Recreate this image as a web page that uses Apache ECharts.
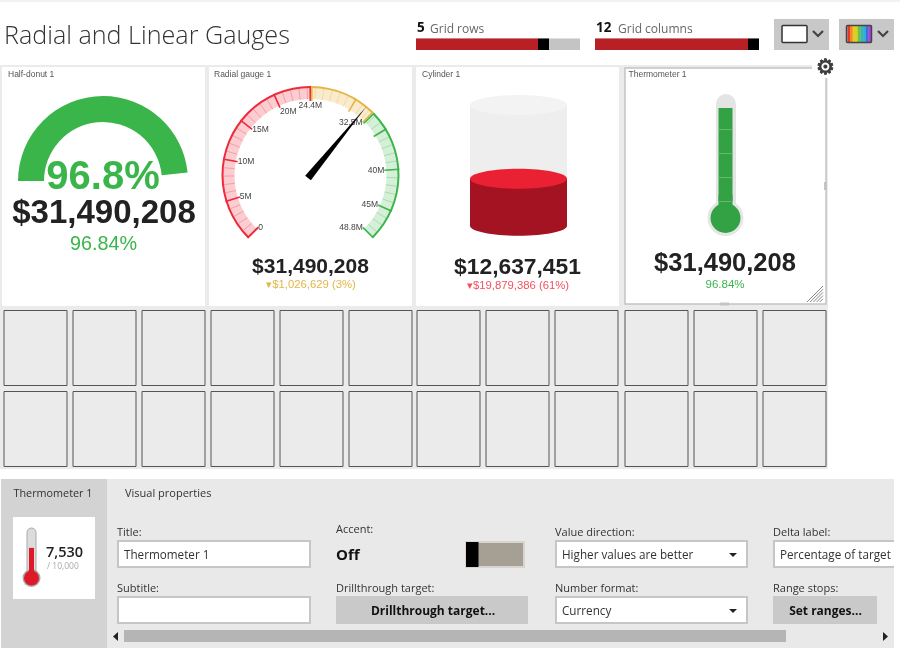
<!DOCTYPE html>
<html>
<head>
<meta charset="utf-8">
<title>Radial and Linear Gauges</title>
<script src="https://cdn.jsdelivr.net/npm/echarts@6/dist/echarts.min.js"></script>
<style>html,body{margin:0;padding:0;background:#fff}#main{width:900px;height:650px}</style>
</head>
<body>
<div id="main"></div>
<script>
// values
const donutPercent = [96.84];
const actualValue = [31490208];
const cylinderValue = [12637451];
const targetMillions = [32.52];
const gaugeDelta = [1026629];
const cylinderDelta = [19879386];
const thumbValue = [7530];
const thumbMax = [10000];

// radial gauge, in millions
const gaugeMax = 48.8;
const zoneEnds = [24.4, 32.53, 48.8];
const zoneColors = ['#ee2a3c', '#e5b445', '#3cb54a'];
const zoneLights = ['#fbcdd1', '#f9ebcb', '#d5efd8'];
const zoneLabels = [{0: '0', 24.4: '24.4M'}, {32.53: '32.5M'}, {48.8: '48.8M'}];
const lowerMajors = [0, 20];
const upperMajors = [30, 45];

const tileNames = ['Half-donut 1', 'Radial gauge 1', 'Cylinder 1', 'Thermometer 1'];
const gridRows = 5;
const gridColumns = 12;

const chart = echarts.init(document.getElementById('main'));
const uiFont = '"Open Sans"';
const chartFont = '"Liberation Sans"';
const green = '#39b54a';

function money(v) { return '$' + Math.round(v).toLocaleString('en-US'); }
function rect(x, y, w, h, fill, stroke, lw, r) {
    return {type: 'rect', shape: {x: x, y: y, width: w, height: h, r: r || 0}, style: {fill: fill, stroke: stroke || null, lineWidth: lw || 0}, silent: true};
}
function text(x, y, s, size, color, font, weight, align) {
    return {type: 'text', x: x, y: y, silent: true, style: {text: s, fontSize: size, fill: color, fontFamily: font || uiFont,
        fontWeight: weight || 'normal', align: align || 'left', verticalAlign: 'middle'}};
}
function circle(cx, cy, r, fill) {
    return {type: 'circle', shape: {cx: cx, cy: cy, r: r}, style: {fill: fill}, silent: true};
}
function poly(points, fill) {
    return {type: 'polygon', shape: {points: points}, style: {fill: fill}, silent: true};
}
function chevron(cx, cy) {
    return {type: 'polyline', shape: {points: [[cx - 5, cy - 3], [cx, cy + 2], [cx + 5, cy - 3]]}, style: {stroke: '#444', lineWidth: 2.2, fill: null}, silent: true};
}
function field(x, y, w, s, arrow) {
    const items = [rect(x, y, w, 26, '#fff', '#c6c6c6', 2)];
    if (s) items.push(text(x + 6, y + 15, s, 11.7, '#333'));
    if (arrow) items.push(poly([[x + w - 18, y + 12], [x + w - 10, y + 12], [x + w - 14, y + 16]], '#222'));
    return items;
}

// page chrome and tiles
const chrome = [];
chrome.push(rect(0, 0, 900, 2, '#f2f2f2'));
chrome.push(text(4, 36.5, 'Radial and Linear Gauges', 25.15, '#333', uiFont, 300));

// sliders
function slider(x, num, label, labelX, knobX) {
    chrome.push(text(x + 1, 28.5, String(num), 13.5, '#111', uiFont, 'bold'));
    chrome.push(text(labelX, 29.5, label, 12, '#666'));
    chrome.push(rect(x, 38.5, 164, 11.5, '#c4c4c4'));
    chrome.push(rect(x, 38.5, knobX - x, 11.5, '#b92025'));
    chrome.push(rect(knobX, 38.5, 11, 11.5, '#000'));
}
slider(416, gridRows, 'Grid rows', 430, 538);
slider(595, gridColumns, 'Grid columns', 618, 748);

// top right buttons
chrome.push(rect(774, 19, 55, 31, '#c8c8c8'));
chrome.push(rect(782, 25.5, 25, 17, '#fff', '#333', 1.5, 1));
chrome.push(chevron(818, 34));
chrome.push(rect(839, 19, 55, 31, '#c8c8c8'));
['#e8362c', '#f08c1f', '#f5c518', '#c8d42c', '#6cc04a', '#3cb5a0', '#2ab0e0', '#3a6fd8', '#a83fe0'].forEach(function (c, i) {
    chrome.push(rect(847.5 + i * 2.6, 26, 2.7, 16, c));
});
chrome.push(rect(846.5, 25.5, 25, 17, 'none', '#444', 1.5, 1));
chrome.push(chevron(883, 34));

// tile area
chrome.push(rect(0, 65, 828, 404, '#ebebeb'));
chrome.push(rect(2, 67, 203, 239, '#fff'));
chrome.push(rect(209, 67, 203, 239, '#fff'));
chrome.push(rect(416, 67, 203, 239, '#fff'));
chrome.push(rect(625, 68, 201, 236, '#fff', '#c4c4c4', 1.5));
chrome.push(text(8, 74.5, tileNames[0], 8.5, '#555', chartFont));
chrome.push(text(214, 74.5, tileNames[1], 8.5, '#555', chartFont));
chrome.push(text(422, 74.5, tileNames[2], 8.5, '#555', chartFont));
chrome.push(text(628.5, 74.5, tileNames[3], 8.5, '#555', chartFont));

// empty cells
const cellX = [4, 73, 142, 211, 280, 349, 417, 486, 555, 625, 694, 763];
[310.5, 391.5].forEach(function (y) {
    cellX.forEach(function (x) { chrome.push(rect(x, y, 63, 75, '#ebebeb', '#555', 1)); });
});

// selected tile furniture
chrome.push(rect(812, 58, 28, 20, '#fff'));
const gear = text(825.5, 68.5, '\u2699', 21, '#3c3c3c', '"DejaVu Sans"', 'normal', 'center');
gear.style.stroke = '#3c3c3c';
gear.style.lineWidth = 0.9;
chrome.push(gear);
chrome.push(rect(824, 182, 3, 8, '#c4c4c4'));
chrome.push(rect(720, 302.5, 9, 3, '#c4c4c4'));
[0, 1, 2, 3, 4].forEach(function (i) {
    chrome.push({type: 'line', shape: {x1: 807 + i * 3.2, y1: 302, x2: 823, y2: 286 + i * 3.2}, style: {stroke: '#888', lineWidth: 1}, silent: true});
});

// tile texts
chrome.push(text(104, 214, money(actualValue[0]), 33, '#222', chartFont, 'bold', 'center'));
chrome.push(text(103.5, 245, donutPercent[0].toFixed(2) + '%', 19.8, green, chartFont, 'normal', 'center'));
chrome.push(text(310.5, 267, money(actualValue[0]), 21, '#222', chartFont, 'bold', 'center'));
chrome.push(text(311, 285, '\u25BE' + money(gaugeDelta[0]) + ' (3%)', 11.3, '#e5b445', chartFont, 'normal', 'center'));
chrome.push(text(517.5, 267.5, money(cylinderValue[0]), 22.8, '#222', chartFont, 'bold', 'center'));
chrome.push(text(518, 286, '\u25BE' + money(cylinderDelta[0]) + ' (61%)', 11.3, '#f4505f', chartFont, 'normal', 'center'));
chrome.push(text(725, 263.5, money(actualValue[0]), 25.5, '#222', chartFont, 'bold', 'center'));
chrome.push(text(725, 285, donutPercent[0].toFixed(2) + '%', 11.5, green, chartFont, 'normal', 'center'));

// thermometer glass
chrome.push(rect(716, 94, 20, 112, '#e4e4e4', null, 0, [10, 10, 0, 0]));
chrome.push(circle(725.5, 218, 18, '#e6e6e6'));
chrome.push(circle(725.5, 218, 15, '#33a244'));
chrome.push(rect(718.5, 195, 14, 15, '#33a244'));

// properties panel
chrome.push(rect(1, 479, 893, 169, '#e9e9e9'));
chrome.push(rect(1, 479, 106, 169, '#d3d3d3'));
chrome.push(text(53, 493.5, tileNames[3], 10.8, '#333', uiFont, 'normal', 'center'));
chrome.push(text(125, 493.5, 'Visual properties', 11, '#333'));
chrome.push(rect(13, 517, 82, 82, '#fff'));
chrome.push(rect(27, 528, 9, 50, '#dcdcdc', '#aaa', 1, [4.5, 4.5, 0, 0]));
chrome.push(circle(31.5, 578, 9, '#a8a8a8'));
chrome.push(circle(31.5, 578, 7.5, '#de1a28'));
chrome.push(text(46, 553, thumbValue[0].toLocaleString('en-US'), 14.5, '#222', uiFont, 600));
chrome.push(text(47, 566.5, '/ ' + thumbMax[0].toLocaleString('en-US'), 8.5, '#aaa'));

chrome.push(text(117, 532.5, 'Title:', 11, '#333'));
field(118, 541, 192, tileNames[3]).forEach(function (e) { chrome.push(e); });
chrome.push(text(117, 588.5, 'Subtitle:', 11, '#333'));
field(118, 597, 192).forEach(function (e) { chrome.push(e); });

chrome.push(text(336, 530, 'Accent:', 11, '#333'));
chrome.push(text(336, 555.5, 'Off', 15, '#111', uiFont, 'bold'));
chrome.push(rect(466, 542, 58, 25, '#a69f94', '#d8d5d0', 2));
chrome.push(rect(466, 542, 12.5, 25, '#000'));
chrome.push(text(336, 588.5, 'Drillthrough target:', 11, '#333'));
chrome.push(rect(336, 596, 192, 28, '#c9c9c9'));
chrome.push(text(433, 611.5, 'Drillthrough target...', 12, '#111', uiFont, 'bold', 'center'));

chrome.push(text(555, 532.5, 'Value direction:', 11, '#333'));
field(556, 541, 191, 'Higher values are better', true).forEach(function (e) { chrome.push(e); });
chrome.push(text(555, 588.5, 'Number format:', 11, '#333'));
field(556, 597, 191, 'Currency', true).forEach(function (e) { chrome.push(e); });

chrome.push(text(773, 532.5, 'Delta label:', 11, '#333'));
chrome.push(rect(774, 541, 130, 26, '#fff', '#c6c6c6', 2));
chrome.push(text(780, 556, 'Percentage of target', 11.7, '#333'));
chrome.push(rect(894, 479, 6, 171, '#fff'));
chrome.push(text(773, 588.5, 'Range stops:', 11, '#333'));
chrome.push(rect(773, 596, 104, 28, '#c9c9c9'));
chrome.push(text(825.5, 611.5, 'Set ranges...', 12, '#111', uiFont, 'bold', 'center'));

// scrollbar
chrome.push(rect(124, 630, 662, 12, '#b5b5b5'));
chrome.push(poly([[118, 632], [118, 641], [113, 636.5]], '#222'));
chrome.push(poly([[883, 632], [883, 641], [888, 636.5]], '#222'));

// radial gauge series
const radialCenter = [310.5, 175];
function angleOf(v) { return 225 - 270 * v / gaugeMax; }
function zoneStops(min, max, colors) {
    const stops = [];
    zoneEnds.forEach(function (end, i) {
        const p = Math.min(1, (end - min) / (max - min));
        if (p > 0 && (stops.length === 0 || stops[stops.length - 1][0] < 1)) stops.push([p, colors[i]]);
    });
    return stops;
}
function arc(min, max, extra, gapStart, gapEnd) {
    return Object.assign({
        type: 'gauge', silent: true, animation: false, center: radialCenter, radius: 89, min: min, max: max,
        startAngle: angleOf(min) - (gapStart || 0), endAngle: angleOf(max) + (gapEnd || 0),
        axisLine: {show: false, lineStyle: {width: 2, color: zoneStops(min, max, zoneColors)}},
        axisTick: {show: false}, splitLine: {show: false}, axisLabel: {show: false},
        pointer: {show: false}, anchor: {show: false}, title: {show: false}, detail: {show: false},
        data: [{value: min}]
    }, extra);
}
const radialSeries = [];
let zoneStart = 0;
zoneEnds.forEach(function (end, i) {
    const gapA = i > 0 ? 0.9 : 0;
    const gapB = i < zoneEnds.length - 1 ? 0.2 : 0;
    const labels = zoneLabels[i];
    // light band
    radialSeries.push(arc(zoneStart, end, {radius: 88,
        axisLine: {show: true, lineStyle: {width: 12, color: [[1, zoneLights[i]]]}}}, gapA, gapB));
    // strong rim with the range stop ticks
    radialSeries.push(arc(zoneStart, end, {splitNumber: 1,
        axisLine: {show: true, lineStyle: {width: 2, color: [[1, zoneColors[i]]]}},
        splitLine: {show: true, distance: -2, length: 15, lineStyle: {color: 'auto', width: 1.6}},
        axisLabel: {show: true, distance: 2, fontSize: 8.5, color: '#444', fontFamily: chartFont,
            formatter: function (v) { return labels[v] || ''; }}}, gapA, gapB));
    zoneStart = end;
});
// minor ticks every 1M
radialSeries.push(arc(0, 48, {splitNumber: 48, radius: 88,
    splitLine: {show: true, distance: -1, length: 11, lineStyle: {color: 'auto', width: 1, opacity: 0.3}}}));
// major ticks every 5M, none near the 24.4M stop
function majorSeries(range) {
    return arc(range[0], range[1], {splitNumber: (range[1] - range[0]) / 5,
        splitLine: {show: true, distance: -2, length: 15, lineStyle: {color: 'auto', width: 1.6}},
        axisLabel: {show: true, distance: 2, fontSize: 8.5, color: '#444', fontFamily: chartFont,
            formatter: function (v) { return (v === 0 || v === 30 || v === 35) ? '' : v + 'M'; }}});
}
radialSeries.push(majorSeries(lowerMajors));
radialSeries.push(majorSeries(upperMajors));
// needle
radialSeries.push(arc(0, gaugeMax, {center: [308, 178], radius: 92, z: 5,
    pointer: {show: true, icon: 'triangle', width: 7.4, length: '100%', itemStyle: {color: '#000'}},
    data: [{value: actualValue[0] / 1e6}]}));

// half donut
const donutSeries = {
    type: 'gauge', silent: true, animation: false, center: [103, 181], radius: 85, min: 0, max: 100, startAngle: 180, endAngle: 0,
    progress: {show: true, width: 26, itemStyle: {color: green}},
    axisLine: {show: false, lineStyle: {width: 26}},
    axisTick: {show: false}, splitLine: {show: false}, axisLabel: {show: false}, pointer: {show: false}, anchor: {show: false}, title: {show: false},
    detail: {show: true, offsetCenter: [0, -3], fontSize: 40, fontWeight: 'bold', color: green, fontFamily: chartFont,
        formatter: function (v) { return v.toFixed(1) + '%'; }},
    data: [{value: donutPercent[0]}]
};

// cylinder drawn on its own value scale
function cylinderItem(bodyColor, topColor) {
    return function (params, api) {
        const box = params.coordSys;
        const yBase = api.coord([0, 0])[1];
        const yTop = api.coord([0, api.value(1)])[1];
        const rx = box.width / 2;
        const cx = box.x + rx;
        const ry = 10;
        return {type: 'group', children: [
            {type: 'ellipse', shape: {cx: cx, cy: yBase, rx: rx, ry: ry}, style: {fill: bodyColor}},
            {type: 'rect', shape: {x: box.x, y: yTop, width: box.width, height: yBase - yTop}, style: {fill: bodyColor}},
            {type: 'ellipse', shape: {cx: cx, cy: yTop, rx: rx, ry: ry}, style: {fill: topColor}}
        ]};
    };
}

const hiddenAxis = {type: 'category', data: [''], show: false};
const option = {
    backgroundColor: '#fff',
    animation: false,
    graphic: {elements: chrome},
    grid: [
        {left: 470, top: 105, width: 97, height: 120.7},
        {left: 718.5, top: 104.9, width: 14, height: 96.6},
        {left: 27, top: 528, width: 9, height: 50}
    ],
    xAxis: [
        Object.assign({gridIndex: 0}, hiddenAxis),
        Object.assign({gridIndex: 1}, hiddenAxis),
        Object.assign({gridIndex: 2}, hiddenAxis)
    ],
    yAxis: [
        {gridIndex: 0, type: 'value', min: 0, max: targetMillions[0], show: false},
        {gridIndex: 1, type: 'value', min: 0, max: targetMillions[0], interval: targetMillions[0] / 4, z: 6, axisLabel: {show: false}, axisLine: {show: false}, axisTick: {show: false},
            splitLine: {showMaxLine: false, lineStyle: {color: '#62ba70', width: 1}}},
        {gridIndex: 2, type: 'value', min: 0, max: thumbMax[0] * 1.25, show: false}
    ],
    series: [
        donutSeries,
        {type: 'custom', silent: true, xAxisIndex: 0, yAxisIndex: 0, renderItem: cylinderItem('#eeeeee', '#f3f3f3'), data: [[0, targetMillions[0]]]},
        {type: 'custom', silent: true, xAxisIndex: 0, yAxisIndex: 0, renderItem: cylinderItem('#a31321', '#ea2033'), data: [[0, cylinderValue[0] / 1e6]]},
        {type: 'bar', silent: true, xAxisIndex: 1, yAxisIndex: 1, barWidth: 14, itemStyle: {color: '#33a244'}, data: [actualValue[0] / 1e6]},
        {type: 'bar', silent: true, xAxisIndex: 2, yAxisIndex: 2, barWidth: 5, itemStyle: {color: '#de1a28'}, data: thumbValue}
    ].concat(radialSeries)
};
chart.setOption(option);
</script>
</body>
</html>
